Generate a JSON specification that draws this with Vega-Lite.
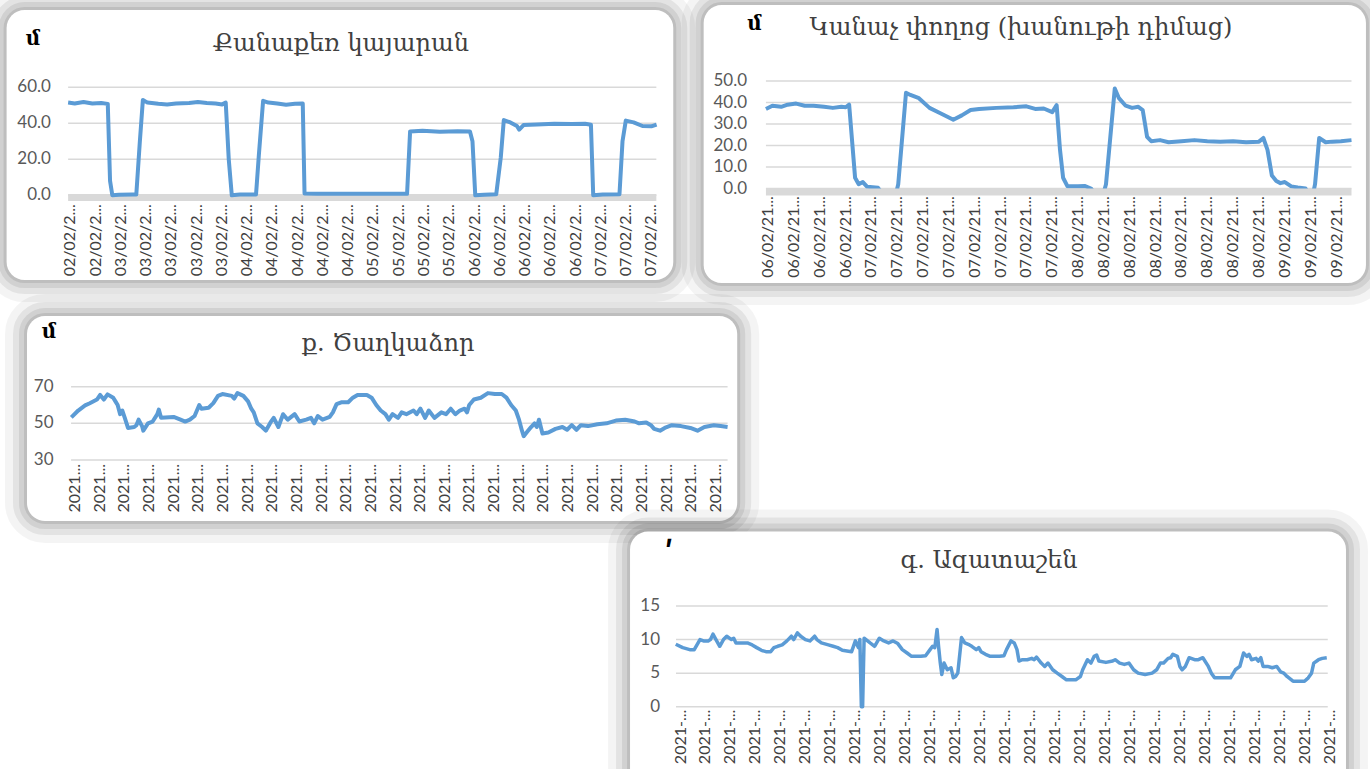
{
"$schema": "https://vega.github.io/schema/vega-lite/v6.json",
"width": 1370, "height": 769, "padding": 0, "autosize": {"type": "none"},
"background": "white",
"config": {"view": {"stroke": null}, "axis": {"disable": true}},
"datasets": {
"p1": [{"t":-0.09,"v":51.5},{"t":0.17,"v":51},{"t":0.52,"v":51.8},{"t":0.87,"v":51},{"t":1.22,"v":51.3},{"t":1.48,"v":50.8},{"t":1.57,"v":8},{"t":1.66,"v":0},{"t":1.92,"v":0.3},{"t":2.44,"v":0.5},{"t":2.61,"v":0.5},{"t":2.75,"v":30},{"t":2.87,"v":53},{"t":3.05,"v":51.5},{"t":3.48,"v":50.8},{"t":3.83,"v":50.5},{"t":4.18,"v":51},{"t":4.7,"v":51.3},{"t":5.05,"v":51.8},{"t":5.4,"v":51.3},{"t":5.75,"v":51},{"t":6.01,"v":50.5},{"t":6.15,"v":51.5},{"t":6.27,"v":20},{"t":6.39,"v":0},{"t":6.71,"v":0.4},{"t":7.23,"v":0.5},{"t":7.35,"v":0.5},{"t":7.46,"v":22},{"t":7.63,"v":52.5},{"t":7.84,"v":51.5},{"t":8.19,"v":51},{"t":8.54,"v":50.3},{"t":8.89,"v":50.8},{"t":9.2,"v":51},{"t":9.27,"v":1},{"t":9.76,"v":0.8},{"t":11.15,"v":0.8},{"t":12.89,"v":0.8},{"t":13.33,"v":0.8},{"t":13.45,"v":35.5},{"t":13.94,"v":35.8},{"t":14.63,"v":35.3},{"t":15.33,"v":35.6},{"t":15.82,"v":35.4},{"t":15.92,"v":30},{"t":16.03,"v":0},{"t":16.38,"v":0.3},{"t":16.86,"v":0.6},{"t":17.04,"v":21},{"t":17.16,"v":41.8},{"t":17.42,"v":40.5},{"t":17.68,"v":38.5},{"t":17.77,"v":36.5},{"t":17.94,"v":39},{"t":18.47,"v":39.3},{"t":19.16,"v":39.8},{"t":19.86,"v":39.6},{"t":20.38,"v":39.8},{"t":20.61,"v":39.2},{"t":20.7,"v":0},{"t":21.08,"v":0.5},{"t":21.74,"v":0.6},{"t":21.86,"v":30},{"t":21.99,"v":41.5},{"t":22.3,"v":40.5},{"t":22.65,"v":38.5},{"t":23.0,"v":38.3},{"t":23.21,"v":39.3}],
"p2": [{"t":-0.08,"v":37},{"t":0.17,"v":38.5},{"t":0.51,"v":38},{"t":0.76,"v":39},{"t":1.09,"v":39.5},{"t":1.42,"v":38.5},{"t":1.76,"v":38.5},{"t":2.17,"v":38},{"t":2.51,"v":37.5},{"t":2.84,"v":38},{"t":3.01,"v":37.8},{"t":3.14,"v":39},{"t":3.37,"v":5},{"t":3.51,"v":2},{"t":3.67,"v":3},{"t":3.84,"v":0.8},{"t":4.26,"v":0.3},{"t":4.37,"v":-1.5},{"t":4.97,"v":-1.5},{"t":5.04,"v":2},{"t":5.34,"v":44.5},{"t":5.51,"v":43.5},{"t":5.84,"v":42},{"t":6.25,"v":37.5},{"t":6.67,"v":35},{"t":7.0,"v":33},{"t":7.17,"v":32},{"t":7.5,"v":34},{"t":7.84,"v":36.5},{"t":8.17,"v":37},{"t":8.84,"v":37.5},{"t":9.5,"v":37.8},{"t":10.0,"v":38.2},{"t":10.34,"v":37},{"t":10.67,"v":37.2},{"t":11.0,"v":35.5},{"t":11.17,"v":38.8},{"t":11.3,"v":18},{"t":11.42,"v":5},{"t":11.59,"v":1},{"t":12.0,"v":1},{"t":12.25,"v":1.2},{"t":12.5,"v":0},{"t":12.59,"v":-1.5},{"t":13.0,"v":-1.5},{"t":13.08,"v":2},{"t":13.42,"v":46.5},{"t":13.58,"v":42},{"t":13.84,"v":38.5},{"t":14.09,"v":37.5},{"t":14.33,"v":38},{"t":14.5,"v":36.5},{"t":14.59,"v":30},{"t":14.67,"v":24},{"t":14.83,"v":22},{"t":15.17,"v":22.5},{"t":15.5,"v":21.5},{"t":16.0,"v":22},{"t":16.5,"v":22.5},{"t":17.0,"v":22},{"t":17.5,"v":21.8},{"t":18.0,"v":22},{"t":18.5,"v":21.5},{"t":19.0,"v":21.8},{"t":19.17,"v":23.5},{"t":19.33,"v":18},{"t":19.5,"v":6},{"t":19.67,"v":3.5},{"t":19.83,"v":2.5},{"t":20.0,"v":3},{"t":20.25,"v":1},{"t":20.5,"v":0.5},{"t":20.8,"v":0},{"t":20.87,"v":-1.5},{"t":21.11,"v":-1.5},{"t":21.17,"v":2},{"t":21.33,"v":23.5},{"t":21.58,"v":21.5},{"t":21.83,"v":21.8},{"t":22.17,"v":22},{"t":22.58,"v":22.5}],
"p3": [{"t":-0.15,"v":53.3},{"t":0.13,"v":57},{"t":0.41,"v":59.8},{"t":0.6,"v":61},{"t":0.89,"v":63},{"t":1.02,"v":65.5},{"t":1.17,"v":63},{"t":1.32,"v":65.8},{"t":1.55,"v":64},{"t":1.64,"v":62},{"t":1.73,"v":60},{"t":1.83,"v":55},{"t":1.92,"v":57},{"t":2.02,"v":53},{"t":2.15,"v":47.5},{"t":2.4,"v":48},{"t":2.49,"v":49},{"t":2.58,"v":52},{"t":2.72,"v":48.5},{"t":2.77,"v":46},{"t":2.96,"v":50},{"t":3.15,"v":51},{"t":3.34,"v":55},{"t":3.4,"v":57.5},{"t":3.49,"v":53},{"t":4.0,"v":53.5},{"t":4.28,"v":52},{"t":4.47,"v":51},{"t":4.66,"v":52},{"t":4.85,"v":54},{"t":5.04,"v":60},{"t":5.13,"v":58},{"t":5.42,"v":58.5},{"t":5.61,"v":61},{"t":5.8,"v":65},{"t":5.98,"v":66},{"t":6.36,"v":65},{"t":6.46,"v":63.5},{"t":6.59,"v":66.5},{"t":6.83,"v":65},{"t":7.02,"v":62},{"t":7.15,"v":58},{"t":7.25,"v":56},{"t":7.4,"v":50},{"t":7.59,"v":48},{"t":7.74,"v":46},{"t":7.93,"v":50.5},{"t":8.06,"v":53},{"t":8.25,"v":48},{"t":8.44,"v":55},{"t":8.63,"v":52},{"t":8.91,"v":55},{"t":9.1,"v":51},{"t":9.38,"v":52},{"t":9.57,"v":53},{"t":9.7,"v":50},{"t":9.85,"v":54},{"t":10.04,"v":52},{"t":10.33,"v":53.5},{"t":10.46,"v":56},{"t":10.61,"v":60.5},{"t":10.8,"v":61.5},{"t":11.08,"v":61.5},{"t":11.27,"v":64},{"t":11.46,"v":65.5},{"t":11.84,"v":65.5},{"t":12.03,"v":64},{"t":12.22,"v":60},{"t":12.4,"v":57},{"t":12.59,"v":55},{"t":12.73,"v":52},{"t":12.88,"v":55},{"t":13.1,"v":53},{"t":13.25,"v":56},{"t":13.44,"v":55},{"t":13.73,"v":57},{"t":13.86,"v":55},{"t":14.01,"v":58},{"t":14.2,"v":53},{"t":14.35,"v":57},{"t":14.58,"v":53},{"t":14.86,"v":56},{"t":15.05,"v":55},{"t":15.24,"v":58},{"t":15.43,"v":55},{"t":15.61,"v":57},{"t":15.8,"v":58},{"t":15.9,"v":56},{"t":15.99,"v":60},{"t":16.18,"v":63},{"t":16.46,"v":64},{"t":16.75,"v":66.5},{"t":17.03,"v":66},{"t":17.31,"v":66},{"t":17.5,"v":64},{"t":17.69,"v":60},{"t":17.88,"v":57},{"t":18.01,"v":52},{"t":18.13,"v":46},{"t":18.2,"v":43},{"t":18.35,"v":45.5},{"t":18.5,"v":48},{"t":18.64,"v":50},{"t":18.73,"v":48},{"t":18.82,"v":52},{"t":18.96,"v":44.5},{"t":19.2,"v":45},{"t":19.49,"v":47},{"t":19.77,"v":48},{"t":19.96,"v":46.5},{"t":20.15,"v":49},{"t":20.34,"v":46.5},{"t":20.52,"v":49},{"t":20.81,"v":48.5},{"t":21.19,"v":49.5},{"t":21.56,"v":50},{"t":21.94,"v":51.5},{"t":22.32,"v":52},{"t":22.7,"v":51},{"t":22.88,"v":50},{"t":23.17,"v":50.5},{"t":23.36,"v":49},{"t":23.49,"v":47},{"t":23.73,"v":46},{"t":23.92,"v":47.5},{"t":24.21,"v":49},{"t":24.58,"v":48.5},{"t":24.96,"v":47.5},{"t":25.25,"v":46},{"t":25.53,"v":48},{"t":25.91,"v":49},{"t":26.19,"v":48.5},{"t":26.47,"v":48}],
"p4": [{"t":-0.19,"v":9.3},{"t":0.09,"v":8.8},{"t":0.37,"v":8.5},{"t":0.55,"v":8.5},{"t":0.78,"v":10},{"t":0.92,"v":9.8},{"t":1.11,"v":9.8},{"t":1.2,"v":10},{"t":1.3,"v":10.8},{"t":1.42,"v":10},{"t":1.57,"v":9},{"t":1.72,"v":10},{"t":1.85,"v":10.5},{"t":2.04,"v":10},{"t":2.13,"v":10.2},{"t":2.22,"v":9.5},{"t":2.68,"v":9.5},{"t":2.87,"v":9.2},{"t":3.05,"v":8.8},{"t":3.24,"v":8.4},{"t":3.42,"v":8.2},{"t":3.61,"v":8.2},{"t":3.74,"v":8.8},{"t":3.89,"v":9},{"t":4.07,"v":9.2},{"t":4.26,"v":9.8},{"t":4.44,"v":10.5},{"t":4.53,"v":10},{"t":4.68,"v":11},{"t":4.81,"v":10.5},{"t":5.0,"v":10},{"t":5.18,"v":9.8},{"t":5.37,"v":10.5},{"t":5.46,"v":10},{"t":5.64,"v":9.5},{"t":5.92,"v":9.2},{"t":6.11,"v":9},{"t":6.29,"v":8.8},{"t":6.48,"v":8.4},{"t":6.66,"v":8.3},{"t":6.85,"v":8.2},{"t":7.0,"v":9.8},{"t":7.12,"v":8.8},{"t":7.18,"v":10},{"t":7.24,"v":0},{"t":7.29,"v":0},{"t":7.35,"v":10.2},{"t":7.59,"v":9.5},{"t":7.77,"v":9},{"t":7.96,"v":10.2},{"t":8.14,"v":9.8},{"t":8.33,"v":9.5},{"t":8.51,"v":9.8},{"t":8.7,"v":9.4},{"t":8.88,"v":8.5},{"t":9.07,"v":8},{"t":9.25,"v":7.5},{"t":9.62,"v":7.5},{"t":9.81,"v":7.6},{"t":9.99,"v":8.5},{"t":10.09,"v":9},{"t":10.18,"v":8.8},{"t":10.27,"v":11.5},{"t":10.33,"v":9},{"t":10.4,"v":6.5},{"t":10.46,"v":4.8},{"t":10.55,"v":6.5},{"t":10.68,"v":5.5},{"t":10.83,"v":5.8},{"t":10.92,"v":4.3},{"t":11.01,"v":4.5},{"t":11.1,"v":5},{"t":11.25,"v":10.3},{"t":11.38,"v":9.5},{"t":11.57,"v":9.2},{"t":11.66,"v":9},{"t":11.84,"v":8.5},{"t":11.94,"v":8.8},{"t":12.03,"v":8.2},{"t":12.21,"v":7.8},{"t":12.4,"v":7.5},{"t":12.77,"v":7.5},{"t":12.95,"v":7.6},{"t":13.05,"v":8.5},{"t":13.23,"v":9.8},{"t":13.36,"v":9.5},{"t":13.47,"v":8.5},{"t":13.55,"v":6.8},{"t":13.69,"v":7},{"t":13.88,"v":7},{"t":14.06,"v":7.2},{"t":14.16,"v":7},{"t":14.25,"v":7.4},{"t":14.44,"v":6.5},{"t":14.58,"v":6},{"t":14.71,"v":6.5},{"t":14.9,"v":5.5},{"t":15.08,"v":5},{"t":15.27,"v":4.5},{"t":15.45,"v":4},{"t":15.82,"v":4},{"t":16.01,"v":4.5},{"t":16.1,"v":5.5},{"t":16.29,"v":7},{"t":16.43,"v":6.5},{"t":16.56,"v":7.5},{"t":16.66,"v":7.7},{"t":16.75,"v":6.8},{"t":17.03,"v":6.6},{"t":17.3,"v":6.8},{"t":17.4,"v":7},{"t":17.58,"v":6.5},{"t":17.77,"v":6.3},{"t":17.95,"v":6.5},{"t":18.14,"v":5.5},{"t":18.32,"v":5},{"t":18.6,"v":4.8},{"t":18.88,"v":5},{"t":19.06,"v":5.5},{"t":19.21,"v":6.5},{"t":19.34,"v":6.5},{"t":19.52,"v":7.2},{"t":19.62,"v":7.3},{"t":19.71,"v":7.8},{"t":19.89,"v":7.5},{"t":19.99,"v":6},{"t":20.08,"v":5.5},{"t":20.21,"v":6},{"t":20.36,"v":7.3},{"t":20.58,"v":7},{"t":20.73,"v":7},{"t":20.91,"v":7.3},{"t":21.13,"v":6},{"t":21.25,"v":5},{"t":21.38,"v":4.3},{"t":22.02,"v":4.3},{"t":22.21,"v":5.5},{"t":22.39,"v":6},{"t":22.54,"v":8},{"t":22.67,"v":7.5},{"t":22.76,"v":7.8},{"t":22.86,"v":7},{"t":23.04,"v":7.2},{"t":23.13,"v":6.8},{"t":23.23,"v":7.3},{"t":23.32,"v":6},{"t":23.5,"v":6},{"t":23.69,"v":5.8},{"t":23.87,"v":6},{"t":24.02,"v":5.2},{"t":24.15,"v":5},{"t":24.28,"v":4.5},{"t":24.52,"v":3.8},{"t":24.98,"v":3.8},{"t":25.13,"v":4.3},{"t":25.26,"v":5},{"t":25.35,"v":6.5},{"t":25.54,"v":7},{"t":25.69,"v":7.2},{"t":25.87,"v":7.3}],
"y1": [{"v":0},{"v":20},{"v":40},{"v":60}],
"y2": [{"v":0},{"v":10},{"v":20},{"v":30},{"v":40},{"v":50}],
"y3": [{"v":30},{"v":50},{"v":70}],
"y4": [{"v":0},{"v":5},{"v":10},{"v":15}],
"l1": [{"t":0,"lab":"02/02/2..."},{"t":1,"lab":"02/02/2..."},{"t":2,"lab":"03/02/2..."},{"t":3,"lab":"03/02/2..."},{"t":4,"lab":"03/02/2..."},{"t":5,"lab":"03/02/2..."},{"t":6,"lab":"03/02/2..."},{"t":7,"lab":"04/02/2..."},{"t":8,"lab":"04/02/2..."},{"t":9,"lab":"04/02/2..."},{"t":10,"lab":"04/02/2..."},{"t":11,"lab":"04/02/2..."},{"t":12,"lab":"05/02/2..."},{"t":13,"lab":"05/02/2..."},{"t":14,"lab":"05/02/2..."},{"t":15,"lab":"05/02/2..."},{"t":16,"lab":"06/02/2..."},{"t":17,"lab":"06/02/2..."},{"t":18,"lab":"06/02/2..."},{"t":19,"lab":"06/02/2..."},{"t":20,"lab":"06/02/2..."},{"t":21,"lab":"07/02/2..."},{"t":22,"lab":"07/02/2..."},{"t":23,"lab":"07/02/2..."}],
"l2": [{"t":0,"lab":"06/02/21..."},{"t":1,"lab":"06/02/21..."},{"t":2,"lab":"06/02/21..."},{"t":3,"lab":"06/02/21..."},{"t":4,"lab":"07/02/21..."},{"t":5,"lab":"07/02/21..."},{"t":6,"lab":"07/02/21..."},{"t":7,"lab":"07/02/21..."},{"t":8,"lab":"07/02/21..."},{"t":9,"lab":"07/02/21..."},{"t":10,"lab":"07/02/21..."},{"t":11,"lab":"07/02/21..."},{"t":12,"lab":"08/02/21..."},{"t":13,"lab":"08/02/21..."},{"t":14,"lab":"08/02/21..."},{"t":15,"lab":"08/02/21..."},{"t":16,"lab":"08/02/21..."},{"t":17,"lab":"08/02/21..."},{"t":18,"lab":"08/02/21..."},{"t":19,"lab":"08/02/21..."},{"t":20,"lab":"09/02/21..."},{"t":21,"lab":"09/02/21..."},{"t":22,"lab":"09/02/21..."}],
"l3": [{"t":0,"lab":"2021..."},{"t":1,"lab":"2021..."},{"t":2,"lab":"2021..."},{"t":3,"lab":"2021..."},{"t":4,"lab":"2021..."},{"t":5,"lab":"2021..."},{"t":6,"lab":"2021..."},{"t":7,"lab":"2021..."},{"t":8,"lab":"2021..."},{"t":9,"lab":"2021..."},{"t":10,"lab":"2021..."},{"t":11,"lab":"2021..."},{"t":12,"lab":"2021..."},{"t":13,"lab":"2021..."},{"t":14,"lab":"2021..."},{"t":15,"lab":"2021..."},{"t":16,"lab":"2021..."},{"t":17,"lab":"2021..."},{"t":18,"lab":"2021..."},{"t":19,"lab":"2021..."},{"t":20,"lab":"2021..."},{"t":21,"lab":"2021..."},{"t":22,"lab":"2021..."},{"t":23,"lab":"2021..."},{"t":24,"lab":"2021..."},{"t":25,"lab":"2021..."},{"t":26,"lab":"2021..."}],
"l4": [{"t":0,"lab":"2021-..."},{"t":1,"lab":"2021-..."},{"t":2,"lab":"2021-..."},{"t":3,"lab":"2021-..."},{"t":4,"lab":"2021-..."},{"t":5,"lab":"2021-..."},{"t":6,"lab":"2021-..."},{"t":7,"lab":"2021-..."},{"t":8,"lab":"2021-..."},{"t":9,"lab":"2021-..."},{"t":10,"lab":"2021-..."},{"t":11,"lab":"2021-..."},{"t":12,"lab":"2021-..."},{"t":13,"lab":"2021-..."},{"t":14,"lab":"2021-..."},{"t":15,"lab":"2021-..."},{"t":16,"lab":"2021-..."},{"t":17,"lab":"2021-..."},{"t":18,"lab":"2021-..."},{"t":19,"lab":"2021-..."},{"t":20,"lab":"2021-..."},{"t":21,"lab":"2021-..."},{"t":22,"lab":"2021-..."},{"t":23,"lab":"2021-..."},{"t":24,"lab":"2021-..."},{"t":25,"lab":"2021-..."},{"t":26,"lab":"2021-..."}],
"one": [{}]
},
"layer": [
{
"layer": [
{"data":{"name":"one"},"mark":{"type":"rect","filled":false,"stroke":"#000","strokeOpacity":0.045,"strokeWidth":44,"cornerRadius":18},"encoding":{"x":{"datum":-2.526},"x2":{"datum":23.87},"y":{"datum":102.9},"y2":{"datum":-47.1}}},
{"data":{"name":"one"},"mark":{"type":"rect","filled":false,"stroke":"#000","strokeOpacity":0.065,"strokeWidth":28,"cornerRadius":18},"encoding":{"x":{"datum":-2.526},"x2":{"datum":23.87},"y":{"datum":102.9},"y2":{"datum":-47.1}}},
{"data":{"name":"one"},"mark":{"type":"rect","filled":false,"stroke":"#000","strokeOpacity":0.08,"strokeWidth":16,"cornerRadius":18},"encoding":{"x":{"datum":-2.526},"x2":{"datum":23.87},"y":{"datum":102.9},"y2":{"datum":-47.1}}},
{"data":{"name":"one"},"mark":{"type":"rect","filled":false,"stroke":"#000","strokeOpacity":0.09,"strokeWidth":6,"cornerRadius":18},"encoding":{"x":{"datum":-2.526},"x2":{"datum":23.87},"y":{"datum":102.9},"y2":{"datum":-47.1}}},
{"data":{"name":"one"},"mark":{"type":"rect","fill":"white","cornerRadius":18},"encoding":{"x":{"datum":-2.526},"x2":{"datum":23.87},"y":{"datum":102.9},"y2":{"datum":-47.1}}},
{"data":{"name":"y1"},"mark":{"type":"rule","color":"#d9d9d9","strokeWidth":1.5},"encoding":{"y":{"field":"v","type":"quantitative"},"x":{"datum":-0.09},"x2":{"datum":23.2}}},
{"data":{"name":"one"},"mark":{"type":"rule","color":"#d9d9d9","strokeWidth":7},"encoding":{"y":{"datum":-1.2},"x":{"datum":-0.09},"x2":{"datum":23.2}}},
{"data":{"name":"p1"},"mark":{"type":"line","color":"#5b9bd5","strokeWidth":4,"strokeJoin":"round"},
 "encoding":{
  "x":{"field":"t","type":"quantitative","scale":{"domain":[0,23],"range":[70.4,651.3],"nice":false,"zero":false}},
  "y":{"field":"v","type":"quantitative","scale":{"domain":[0,60],"range":[195.3,87.3],"nice":false,"zero":false}}}},
{"data":{"name":"y1"},"mark":{"type":"text","font":"Lato","fontSize":17,"color":"#595959","align":"right","baseline":"middle"},"encoding":{"y":{"field":"v","type":"quantitative"},"x":{"datum":-0.77},"text":{"field":"v","type":"quantitative","format":".1f"}}},
{"data":{"name":"l1"},"mark":{"type":"text","font":"Lato","fontSize":16,"color":"#404040","align":"right","baseline":"middle","angle":270},"encoding":{"x":{"field":"t","type":"quantitative"},"y":{"datum":-4.9},"text":{"field":"lab"}}},
{"data":{"name":"one"},"mark":{"type":"text","text":"Քանաքեռ կայարան","font":"DejaVu Serif","fontSize":24,"color":"#404040","baseline":"middle","align":"center"},"encoding":{"x":{"datum":10.71},"y":{"datum":84.1}}},
{"data":{"name":"one"},"mark":{"type":"text","text":"մ","font":"DejaVu Serif","fontSize":20,"fontWeight":"bold","color":"#000","baseline":"middle","align":"center"},"encoding":{"x":{"datum":-1.48},"y":{"datum":86.8}}}
]
},
{
"layer": [
{"data":{"name":"one"},"mark":{"type":"rect","filled":false,"stroke":"#000","strokeOpacity":0.045,"strokeWidth":44,"cornerRadius":18},"encoding":{"x":{"datum":-2.49},"x2":{"datum":23.14},"y":{"datum":85.3},"y2":{"datum":-43.95}}},
{"data":{"name":"one"},"mark":{"type":"rect","filled":false,"stroke":"#000","strokeOpacity":0.065,"strokeWidth":28,"cornerRadius":18},"encoding":{"x":{"datum":-2.49},"x2":{"datum":23.14},"y":{"datum":85.3},"y2":{"datum":-43.95}}},
{"data":{"name":"one"},"mark":{"type":"rect","filled":false,"stroke":"#000","strokeOpacity":0.08,"strokeWidth":16,"cornerRadius":18},"encoding":{"x":{"datum":-2.49},"x2":{"datum":23.14},"y":{"datum":85.3},"y2":{"datum":-43.95}}},
{"data":{"name":"one"},"mark":{"type":"rect","filled":false,"stroke":"#000","strokeOpacity":0.09,"strokeWidth":6,"cornerRadius":18},"encoding":{"x":{"datum":-2.49},"x2":{"datum":23.14},"y":{"datum":85.3},"y2":{"datum":-43.95}}},
{"data":{"name":"one"},"mark":{"type":"rect","fill":"white","cornerRadius":18},"encoding":{"x":{"datum":-2.49},"x2":{"datum":23.14},"y":{"datum":85.3},"y2":{"datum":-43.95}}},
{"data":{"name":"y2"},"mark":{"type":"rule","color":"#d9d9d9","strokeWidth":1.5},"encoding":{"y":{"field":"v","type":"quantitative"},"x":{"datum":-0.08},"x2":{"datum":22.58}}},
{"data":{"name":"p2"},"mark":{"type":"line","color":"#5b9bd5","strokeWidth":4,"strokeJoin":"round"},
 "encoding":{
  "x":{"field":"t","type":"quantitative","scale":{"domain":[0,22],"range":[768,1336.5],"nice":false,"zero":false}},
  "y":{"field":"v","type":"quantitative","scale":{"domain":[0,50],"range":[188.5,81],"nice":false,"zero":false}}}},
{"data":{"name":"one"},"mark":{"type":"rule","color":"#d9d9d9","strokeWidth":7},"encoding":{"y":{"datum":-1.63},"x":{"datum":-0.08},"x2":{"datum":22.58}}},
{"data":{"name":"y2"},"mark":{"type":"text","font":"Lato","fontSize":17,"color":"#595959","align":"right","baseline":"middle"},"encoding":{"y":{"field":"v","type":"quantitative"},"x":{"datum":-0.81},"text":{"field":"v","type":"quantitative","format":".1f"}}},
{"data":{"name":"l2"},"mark":{"type":"text","font":"Lato","fontSize":16,"color":"#404040","align":"right","baseline":"middle","angle":270},"encoding":{"x":{"field":"t","type":"quantitative"},"y":{"datum":-3.6},"text":{"field":"lab"}}},
{"data":{"name":"one"},"mark":{"type":"text","text":"Կանաչ փողոց (խանութի դիմաց)","font":"DejaVu Serif","fontSize":24,"color":"#404040","baseline":"middle","align":"center"},"encoding":{"x":{"datum":9.79},"y":{"datum":74.65}}},
{"data":{"name":"one"},"mark":{"type":"text","text":"մ","font":"DejaVu Serif","fontSize":20,"fontWeight":"bold","color":"#000","baseline":"middle","align":"center"},"encoding":{"x":{"datum":-0.52},"y":{"datum":76.3}}}
]
},
{
"layer": [
{"data":{"name":"one"},"mark":{"type":"rect","filled":false,"stroke":"#000","strokeOpacity":0.045,"strokeWidth":44,"cornerRadius":18},"encoding":{"x":{"datum":-1.947},"x2":{"datum":26.86},"y":{"datum":108.6},"y2":{"datum":-3.29}}},
{"data":{"name":"one"},"mark":{"type":"rect","filled":false,"stroke":"#000","strokeOpacity":0.065,"strokeWidth":28,"cornerRadius":18},"encoding":{"x":{"datum":-1.947},"x2":{"datum":26.86},"y":{"datum":108.6},"y2":{"datum":-3.29}}},
{"data":{"name":"one"},"mark":{"type":"rect","filled":false,"stroke":"#000","strokeOpacity":0.08,"strokeWidth":16,"cornerRadius":18},"encoding":{"x":{"datum":-1.947},"x2":{"datum":26.86},"y":{"datum":108.6},"y2":{"datum":-3.29}}},
{"data":{"name":"one"},"mark":{"type":"rect","filled":false,"stroke":"#000","strokeOpacity":0.09,"strokeWidth":6,"cornerRadius":18},"encoding":{"x":{"datum":-1.947},"x2":{"datum":26.86},"y":{"datum":108.6},"y2":{"datum":-3.29}}},
{"data":{"name":"one"},"mark":{"type":"rect","fill":"white","cornerRadius":18},"encoding":{"x":{"datum":-1.947},"x2":{"datum":26.86},"y":{"datum":108.6},"y2":{"datum":-3.29}}},
{"data":{"name":"y3"},"mark":{"type":"rule","color":"#d9d9d9","strokeWidth":1.5},"encoding":{"y":{"field":"v","type":"quantitative"},"x":{"datum":-0.16},"x2":{"datum":26.47}}},
{"data":{"name":"p3"},"mark":{"type":"line","color":"#5b9bd5","strokeWidth":4,"strokeJoin":"round"},
 "encoding":{
  "x":{"field":"t","type":"quantitative","scale":{"domain":[0,26],"range":[75,716],"nice":false,"zero":false}},
  "y":{"field":"v","type":"quantitative","scale":{"domain":[30,70],"range":[460,386.7],"nice":false,"zero":false}}}},
{"data":{"name":"y3"},"mark":{"type":"text","font":"Lato","fontSize":17,"color":"#595959","align":"right","baseline":"middle"},"encoding":{"y":{"field":"v","type":"quantitative"},"x":{"datum":-0.87},"text":{"field":"v","type":"quantitative","format":"d"}}},
{"data":{"name":"l3"},"mark":{"type":"text","font":"Lato","fontSize":16,"color":"#404040","align":"right","baseline":"middle","angle":270},"encoding":{"x":{"field":"t","type":"quantitative"},"y":{"datum":27.8},"text":{"field":"lab"}}},
{"data":{"name":"one"},"mark":{"type":"text","text":"ք. Ծաղկաձոր","font":"DejaVu Serif","fontSize":24,"color":"#404040","baseline":"middle","align":"center"},"encoding":{"x":{"datum":12.7},"y":{"datum":93.3}}},
{"data":{"name":"one"},"mark":{"type":"text","text":"մ","font":"DejaVu Serif","fontSize":20,"fontWeight":"bold","color":"#000","baseline":"middle","align":"center"},"encoding":{"x":{"datum":-1.054},"y":{"datum":100.1}}}
]
},
{
"layer": [
{"data":{"name":"one"},"mark":{"type":"rect","filled":false,"stroke":"#000","strokeOpacity":0.045,"strokeWidth":44,"cornerRadius":18},"encoding":{"x":{"datum":-2.02},"x2":{"datum":26.64},"y":{"datum":26.1},"y2":{"datum":-12}}},
{"data":{"name":"one"},"mark":{"type":"rect","filled":false,"stroke":"#000","strokeOpacity":0.065,"strokeWidth":28,"cornerRadius":18},"encoding":{"x":{"datum":-2.02},"x2":{"datum":26.64},"y":{"datum":26.1},"y2":{"datum":-12}}},
{"data":{"name":"one"},"mark":{"type":"rect","filled":false,"stroke":"#000","strokeOpacity":0.08,"strokeWidth":16,"cornerRadius":18},"encoding":{"x":{"datum":-2.02},"x2":{"datum":26.64},"y":{"datum":26.1},"y2":{"datum":-12}}},
{"data":{"name":"one"},"mark":{"type":"rect","filled":false,"stroke":"#000","strokeOpacity":0.09,"strokeWidth":6,"cornerRadius":18},"encoding":{"x":{"datum":-2.02},"x2":{"datum":26.64},"y":{"datum":26.1},"y2":{"datum":-12}}},
{"data":{"name":"one"},"mark":{"type":"rect","fill":"white","cornerRadius":18},"encoding":{"x":{"datum":-2.02},"x2":{"datum":26.64},"y":{"datum":26.1},"y2":{"datum":-12}}},
{"data":{"name":"y4"},"mark":{"type":"rule","color":"#d9d9d9","strokeWidth":1.5},"encoding":{"y":{"field":"v","type":"quantitative"},"x":{"datum":-0.18},"x2":{"datum":25.91}}},
{"data":{"name":"p4"},"mark":{"type":"line","color":"#5b9bd5","strokeWidth":3.5,"strokeJoin":"round"},
 "encoding":{
  "x":{"field":"t","type":"quantitative","scale":{"domain":[0,26],"range":[680.5,1330],"nice":false,"zero":false}},
  "y":{"field":"v","type":"quantitative","scale":{"domain":[0,15],"range":[706.7,606],"nice":false,"zero":false}}}},
{"data":{"name":"y4"},"mark":{"type":"text","font":"Lato","fontSize":17,"color":"#595959","align":"right","baseline":"middle"},"encoding":{"y":{"field":"v","type":"quantitative"},"x":{"datum":-0.82},"text":{"field":"v","type":"quantitative","format":"d"}}},
{"data":{"name":"l4"},"mark":{"type":"text","font":"Lato","fontSize":16,"color":"#404040","align":"right","baseline":"middle","angle":270},"encoding":{"x":{"field":"t","type":"quantitative"},"y":{"datum":-0.45},"text":{"field":"lab"}}},
{"data":{"name":"one"},"mark":{"type":"text","text":"գ. Ազատաշեն","font":"DejaVu Serif","fontSize":24,"color":"#404040","baseline":"middle","align":"center"},"encoding":{"x":{"datum":12.35},"y":{"datum":21.7}}},
{"data":{"name":"one"},"mark":{"type":"text","text":"ʹ","font":"DejaVu Sans","fontSize":34,"fontWeight":"bold","color":"#000","baseline":"middle","align":"center"},"encoding":{"x":{"datum":-0.46},"y":{"datum":22.5}}}
]
}
],
"resolve": {"scale": {"x": "independent", "y": "independent"}}
}
